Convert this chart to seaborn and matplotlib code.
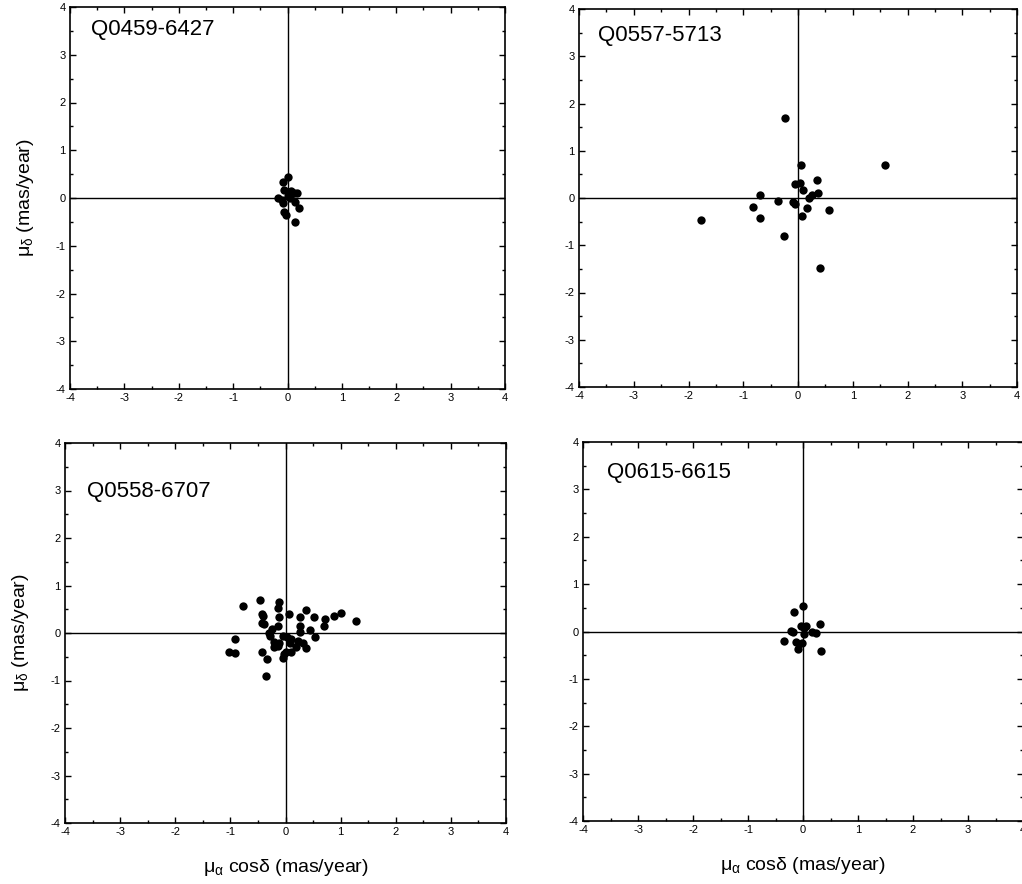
import numpy as np
import pandas as pd
import matplotlib
matplotlib.use('Agg')
import matplotlib.pyplot as plt
from matplotlib.ticker import MultipleLocator
import seaborn as sns

sns.set_style("ticks")
plt.rcParams['font.family'] = ['Liberation Sans', 'DejaVu Sans']
plt.rcParams['mathtext.fontset'] = 'custom'
plt.rcParams['mathtext.rm'] = 'Liberation Sans'
plt.rcParams['mathtext.it'] = 'Liberation Sans'
plt.rcParams['axes.unicode_minus'] = False
plt.rcParams['text.color'] = 'black'
plt.rcParams['axes.labelcolor'] = 'black'
plt.rcParams['xtick.color'] = 'black'
plt.rcParams['ytick.color'] = 'black'
plt.rcParams['axes.edgecolor'] = 'black'

# proper motions (mas/year)
q0459_x = [0.0, -0.09, -0.06, 0.06, 0.18, 0.12, -0.17, -0.09, 0.04, 0.0, 0.13, 0.22, -0.06, -0.02, 0.13, -0.11]
q0459_y = [0.45, 0.34, 0.17, 0.15, 0.10, 0.10, 0.0, -0.10, 0.0, 0.05, -0.08, -0.21, -0.29, -0.36, -0.50, -0.05]

q0557_x = [-0.23, 0.06, 1.59, 0.35, -0.05, 0.03, 0.10, 0.36, 0.26, 0.21, -0.69, -0.36, -0.10, -0.06,
           -0.83, 0.16, 0.56, -0.70, 0.08, -1.78, -0.25, 0.40]
q0557_y = [1.69, 0.69, 0.69, 0.39, 0.29, 0.31, 0.16, 0.11, 0.06, 0.0, 0.06, -0.06, -0.08, -0.12,
           -0.20, -0.22, -0.26, -0.43, -0.39, -0.47, -0.81, -1.49]

q0558_x = [-0.77, -0.46, -0.11, -0.14, -0.42, -0.41, -0.11, 0.06, 0.38, 0.26, 0.51, 0.71, 0.88, 1.01,
           1.28, 0.69, -0.43, -0.39, -0.13, 0.27, 0.44, 0.27, -0.25, -0.30, -0.29, -0.91, -0.05, 0.03,
           0.10, 0.53, -0.20, -0.12, 0.08, 0.22, 0.31, -0.20, -0.13, 0.19, 0.38, 0.10, 0.0, -0.03,
           -1.02, -0.91, -0.43, -0.33, -0.05, -0.36]
q0558_y = [0.57, 0.69, 0.65, 0.52, 0.40, 0.36, 0.33, 0.39, 0.48, 0.34, 0.33, 0.29, 0.36, 0.43,
           0.25, 0.15, 0.21, 0.18, 0.15, 0.15, 0.07, 0.03, 0.08, 0.01, -0.06, -0.13, -0.07, -0.09,
           -0.13, -0.09, -0.18, -0.21, -0.21, -0.16, -0.21, -0.30, -0.28, -0.30, -0.32, -0.39, -0.39, -0.44,
           -0.41, -0.42, -0.41, -0.54, -0.52, -0.90]

q0615_x = [0.0, -0.17, -0.03, 0.05, 0.02, 0.30, -0.21, -0.19, 0.01, 0.17, 0.23, -0.35, -0.12, -0.01, -0.09, 0.33]
q0615_y = [0.53, 0.42, 0.12, 0.12, 0.08, 0.15, 0.01, -0.02, -0.06, -0.02, -0.03, -0.19, -0.22, -0.25, -0.36, -0.41]

names = ['Q0459-6427', 'Q0557-5713', 'Q0558-6707', 'Q0615-6615']
xs = [q0459_x, q0557_x, q0558_x, q0615_x]
ys = [q0459_y, q0557_y, q0558_y, q0615_y]

W, H = 1022, 884
fig = plt.figure(figsize=(W / 100, H / 100), dpi=100)

# panel boxes in pixels: left, right, top, bottom
boxes = [(70, 505, 7, 389), (579, 1017, 9, 387), (65, 506, 443, 823), (583, 1023, 442, 821)]
name_pos = [(-3.62, 3.52), (-3.65, 3.44), (-3.6, 2.97), (-3.56, 3.35)]

for i in range(4):
    l, r, t, b = boxes[i]
    ax = fig.add_axes([l / W, (H - b) / H, (r - l) / W, (b - t) / H])
    df = pd.DataFrame({'x': xs[i], 'y': ys[i]})
    ax.axhline(0, color='black', lw=1, zorder=1)
    ax.axvline(0, color='black', lw=1, zorder=1)
    sns.scatterplot(data=df, x='x', y='y', ax=ax, color='black', s=36,
                    edgecolor='black', linewidth=0, zorder=3)
    ax.set_xlim(-4, 4)
    ax.set_ylim(-4, 4)
    ax.xaxis.set_major_locator(MultipleLocator(1))
    ax.yaxis.set_major_locator(MultipleLocator(1))
    ax.xaxis.set_minor_locator(MultipleLocator(0.5))
    ax.yaxis.set_minor_locator(MultipleLocator(0.5))
    ax.tick_params(which='both', direction='in', top=True, right=True,
                   labelsize=8, width=1, pad=3)
    ax.tick_params(which='major', length=4.5)
    ax.tick_params(which='minor', length=2.2)
    for sp in ax.spines.values():
        sp.set_linewidth(1.2)
        sp.set_visible(True)
    ax.text(name_pos[i][0], name_pos[i][1], names[i], fontsize=16, ha='left', va='center')
    if i in (0, 2):
        ax.set_ylabel(r'$\mu_{\delta}$ (mas/year)', fontsize=14, labelpad=14)
    else:
        ax.set_ylabel('')
    if i in (2, 3):
        ax.set_xlabel(r'$\mu_{\alpha}$ cos$\delta$ (mas/year)', fontsize=14, labelpad=14)
    else:
        ax.set_xlabel('')

plt.savefig('out.png', dpi=100)
